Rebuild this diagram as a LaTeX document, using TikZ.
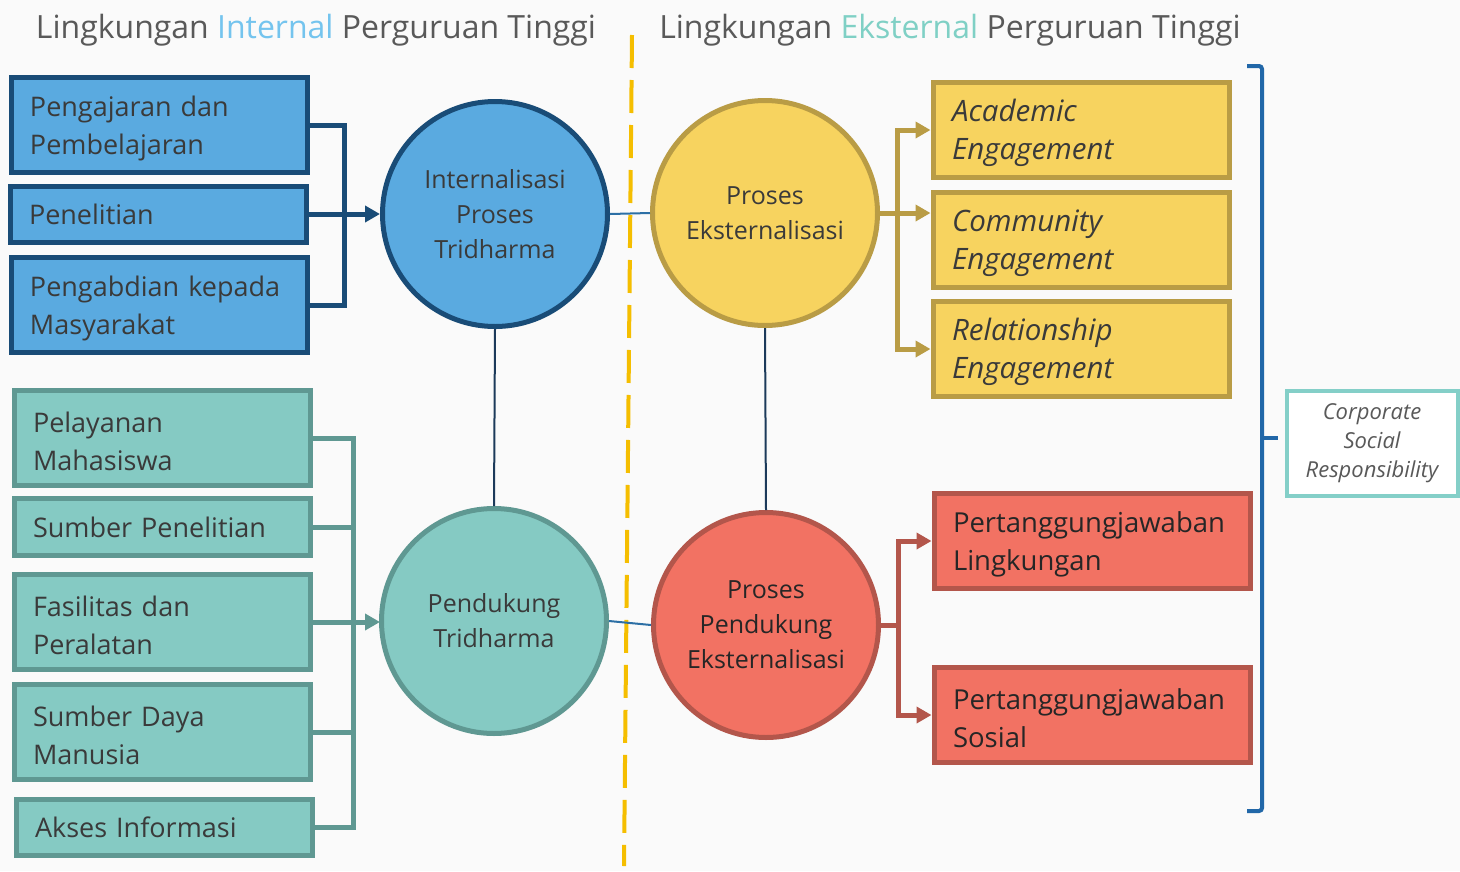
\documentclass[tikz,border=0pt]{standalone}
\usepackage{fontspec}
\setmainfont{Open Sans}
\usetikzlibrary{arrows.meta, positioning}

\definecolor{bgcol}{HTML}{FAFAFA}
\definecolor{textdark}{HTML}{3A3A3A}
\definecolor{titlegray}{HTML}{595959}
\definecolor{intblue}{HTML}{74C4EE}
\definecolor{extteal}{HTML}{7FD0C5}
\definecolor{dashyellow}{HTML}{F5BE00}
\definecolor{bluefill}{HTML}{5AAAE0}
\definecolor{blueline}{HTML}{194C77}
\definecolor{yellowfill}{HTML}{F7D35F}
\definecolor{yellowline}{HTML}{B99C45}
\definecolor{tealfill}{HTML}{85CAC3}
\definecolor{tealline}{HTML}{5F9892}
\definecolor{redfill}{HTML}{F27263}
\definecolor{redline}{HTML}{B3564B}
\definecolor{bracecol}{HTML}{2167A8}
\definecolor{linkblue}{HTML}{2C6FA5}
\definecolor{navy}{HTML}{1C3A5A}
\definecolor{csrline}{HTML}{84CFC8}

\begin{document}
\begin{tikzpicture}[
        x=1pt, y=-1pt,
        title/.style={font=\fontsize{32}{40}\selectfont, text=titlegray, anchor=base, inner sep=0pt},
        box/.style={rectangle, line width=5pt, align=left, inner sep=0pt, minimum width=296pt, minimum height=95pt, text width=258pt, font=\fontsize{27}{38}\selectfont, text=textdark},
        twoline/.style={execute at begin node={\rule{0pt}{28pt}}},
        bluebox/.style={box, fill=bluefill, draw=blueline},
        tealbox/.style={box, fill=tealfill, draw=tealline},
        yellowbox/.style={box, twoline, fill=yellowfill, draw=yellowline, font=\fontsize{29.5}{38}\selectfont\itshape},
        redbox/.style={box, twoline, fill=redfill, draw=redline, minimum width=316pt, text width=278pt, text=black!85, font=\fontsize{27.5}{38}\selectfont},
        bubble/.style={circle, line width=5pt, minimum size=225pt, inner sep=0pt, align=center, font=\fontsize{25}{35}\selectfont, text=textdark, execute at begin node={\rule{0pt}{25pt}}},
        link/.style={line width=5pt},
        arrow/.style={link, -{Triangle[length=15pt, width=16pt]}},
        thin/.style={line width=2pt}
    ]
        % Background
        \fill[bgcol] (0,0) rectangle (1460,871);
        \useasboundingbox (0,0) rectangle (1460,871);

        % Titles
        \node[title] (ltitle) at (316,38) {Lingkungan \textcolor{intblue}{Internal} Perguruan Tinggi};
        \node[title] (rtitle) at (950,38) {Lingkungan \textcolor{extteal}{Eksternal} Perguruan Tinggi};

        % Divider
        \coordinate (dtop) at (632,35);
        \coordinate (dbot) at (624,866);
        \draw[dashyellow, line width=4pt, dash pattern=on 33pt off 12pt] (dtop) -- (dbot);

        % Tridharma (Left Column)
        \node[bluebox, twoline] (ajar) at (159,125) {Pengajaran dan\\Pembelajaran};
        \node[bluebox, minimum height=56pt] (teliti) at (158,214) {Penelitian};
        \node[bluebox, twoline] (abdi) at (159,305) {Pengabdian kepada\\Masyarakat};

        % Supporting resources (Left Column)
        \node[tealbox, twoline] (layan) at (162,438) {Pelayanan\\Mahasiswa};
        \node[tealbox, minimum height=57pt] (sumber) at (162,527) {Sumber Penelitian};
        \node[tealbox, twoline] (fasil) at (162,622) {Fasilitas dan\\Peralatan};
        \node[tealbox, twoline] (sdm) at (162,732) {Sumber Daya\\Manusia};
        \node[tealbox, minimum height=56pt] (akses) at (164,827) {Akses Informasi};

        % Processes
        \node[bubble, fill=bluefill, draw=blueline] (intern) at (495,214) {Internalisasi\\Proses\\Tridharma};
        \node[bubble, fill=tealfill, draw=tealline] (dukung) at (494,621) {Pendukung\\Tridharma};
        \node[bubble, fill=yellowfill, draw=yellowline] (ekstern) at (765,213) {Proses\\Eksternalisasi};
        \node[bubble, fill=redfill, draw=redline, text=black!85] (pdkekst) at (766,625) {Proses\\Pendukung\\Eksternalisasi};

        % Engagement (Right Column)
        \node[yellowbox] (acad) at (1081,130) {Academic\\Engagement};
        \node[yellowbox] (comm) at (1081,240) {Community\\Engagement};
        \node[yellowbox] (rel) at (1081,349) {Relationship\\Engagement};

        % Responsibility (Right Column)
        \node[redbox] (lingk) at (1092,541) {Pertanggungjawaban\\Lingkungan};
        \node[redbox] (sosial) at (1092,715) {Pertanggungjawaban\\Sosial};

        % CSR
        \node[rectangle, draw=csrline, fill=white, line width=4pt, minimum width=171pt, minimum height=105pt, inner sep=0pt, align=center, font=\fontsize{22}{29}\selectfont\itshape, text=titlegray] (csr) at (1372,443) {Corporate\\Social\\Responsibility};
        \coordinate (btop) at (1247,66);
        \coordinate (bbot) at (1247,811);
        \coordinate (bnub) at (1278,438);
        \draw[bracecol, line width=4pt, rounded corners=3pt] (btop) -- (1262,66) -- (1262,811) -- (bbot);
        \draw[bracecol, line width=4pt] (1262,438) -- (bnub);

        % Connections
        % Tridharma
        \draw[link, blueline] (ajar.east) -- ++(35,0) |- (abdi.east);
        \draw[arrow, blueline] (teliti.east) -- (intern.west);

        % Supporting
        \coordinate (tbar) at (353,0);
        \draw[link, tealline] (layan.east) -- (layan.east -| tbar) |- (akses.east);
        \draw[link, tealline] (sumber.east) -- (sumber.east -| tbar);
        \draw[link, tealline] (sdm.east) -- (sdm.east -| tbar);
        \draw[arrow, tealline] (fasil.east) -- (fasil.east -| intern.west);

        % Between processes
        \draw[thin, linkblue] (intern.east) -- (ekstern.west);
        \draw[thin, linkblue] (dukung.east) -- (pdkekst.west);
        \draw[thin, navy] (intern.south) -- (dukung.north);
        \draw[thin, navy] (ekstern.south) -- (pdkekst.north);

        % Engagement
        \draw[arrow, yellowline] (ekstern.east) -- ++(17,0) |- (acad.west);
        \draw[arrow, yellowline] (ekstern.east) -- (ekstern.east -| comm.west);
        \draw[arrow, yellowline] (ekstern.east) -- ++(17,0) |- (rel.west);

        % Responsibility
        \draw[arrow, redline] (pdkekst.east) -- ++(17,0) |- (lingk.west);
        \draw[arrow, redline] (pdkekst.east) -- ++(17,0) |- (sosial.west);

    \end{tikzpicture}
\end{document}
